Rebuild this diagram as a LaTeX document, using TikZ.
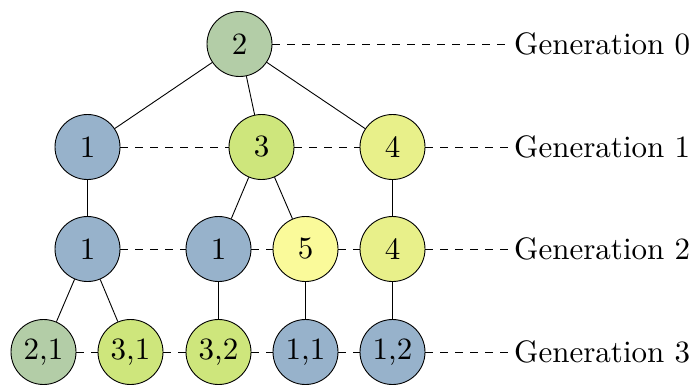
\documentclass[tikz,border=0pt]{standalone}
\usepackage{fontspec}
\newfontfamily\tenlm{lmroman10-regular.otf}
\begin{document}
\begin{tikzpicture}[x=1bp,y=-1bp,
  bigfont/.style={font=\tenlm\fontsize{31bp}{36bp}\selectfont},
  gnode/.style={circle,draw,line width=0.9bp,minimum size=65bp,inner sep=0pt,bigfont},
  cgreen/.style={gnode,fill=cgr},
  cblue/.style={gnode,fill=cbl},
  clime/.style={gnode,fill=cli},
  cyg/.style={gnode,fill=cyg},
  cyel/.style={gnode,fill=cye},
  genlabel/.style={anchor=west,inner sep=4bp,bigfont},
  edge/.style={line width=0.9bp},
  dline/.style={line width=0.9bp,dash pattern=on 7.5bp off 7.5bp}]
\definecolor{cgr}{HTML}{B3CDA7}
\definecolor{cbl}{HTML}{97B2CB}
\definecolor{cli}{HTML}{CEE67C}
\definecolor{cyg}{HTML}{E8F08A}
\definecolor{cye}{HTML}{FAFA9A}
\useasboundingbox (0,0) rectangle (693,384);
% generation 0
\node[cgreen] (a) at (239.5,44) {2};
% generation 1
\node[cblue] (b1) at (87.5,147) {1};
\node[clime] (b2) at (261.5,147) {3};
\node[cyg] (b3) at (392.5,147) {4};
% generation 2
\node[cblue] (c1) at (87.5,249) {1};
\node[cblue] (c2) at (218.5,249) {1};
\node[cyel] (c3) at (305.5,249) {5};
\node[cyg] (c4) at (392.5,249) {4};
% generation 3
\node[cgreen] (d1) at (43.5,352) {2,1};
\node[clime] (d2) at (130.5,352) {3,1};
\node[clime] (d3) at (218.5,352) {3,2};
\node[cblue] (d4) at (305.5,352) {1,1};
\node[cblue] (d5) at (392.5,352) {1,2};
% labels
\node[genlabel] (g0) at (510,44) {Generation 0};
\node[genlabel] (g1) at (510,147) {Generation 1};
\node[genlabel] (g2) at (510,249) {Generation 2};
\node[genlabel] (g3) at (510,352) {Generation 3};
% tree edges
\draw[edge] (a) -- (b1);
\draw[edge] (a) -- (b2);
\draw[edge] (a) -- (b3);
\draw[edge] (b1) -- (c1);
\draw[edge] (b2) -- (c2);
\draw[edge] (b2) -- (c3);
\draw[edge] (b3) -- (c4);
\draw[edge] (c1) -- (d1);
\draw[edge] (c1) -- (d2);
\draw[edge] (c2) -- (d3);
\draw[edge] (c3) -- (d4);
\draw[edge] (c4) -- (d5);
% dashed generation lines
\draw[dline] (a) -- (g0);
\draw[dline] (b1) -- (b2);
\draw[dline] (b2) -- (b3);
\draw[dline] (b3) -- (g1);
\draw[dline] (c1) -- (c2);
\draw[dline] (c2) -- (c3);
\draw[dline] (c3) -- (c4);
\draw[dline] (c4) -- (g2);
\draw[dline] (d1) -- (d2);
\draw[dline] (d2) -- (d3);
\draw[dline] (d3) -- (d4);
\draw[dline] (d4) -- (d5);
\draw[dline] (d5) -- (g3);
\end{tikzpicture}
\end{document}
